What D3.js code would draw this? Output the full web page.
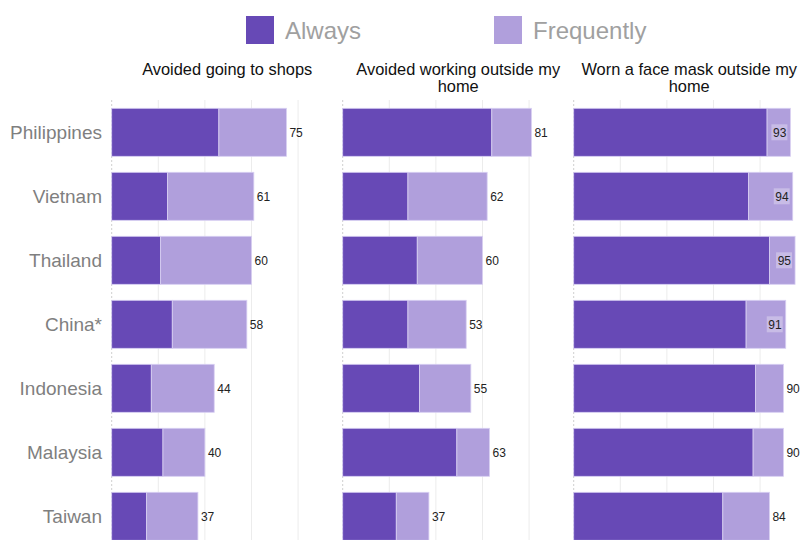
<!DOCTYPE html>
<html lang="en">
<head>
<meta charset="utf-8">
<title>Behaviour by country</title>
<script src="https://d3js.org/d3.v7.min.js"></script>
<style>
  body { margin: 0; background: #fff; }
  svg { display: block; font-family: "Liberation Sans", Arial, sans-serif; }
</style>
</head>
<body>
<script>
// data
var countries = ["Philippines", "Vietnam", "Thailand", "China*", "Indonesia", "Malaysia", "Taiwan"];
var seriesNames = ["Always", "Frequently"];
var panelTitles = [
  ["Avoided going to shops"],
  ["Avoided working outside my", "home"],
  ["Worn a face mask outside my", "home"]
];
var alwaysShops = [46, 24, 21, 26, 17, 22, 15];
var freqShops   = [29, 37, 39, 32, 27, 18, 22];
var alwaysWork  = [64, 28, 32, 28, 33, 49, 23];
var freqWork    = [17, 34, 28, 25, 22, 14, 14];
var alwaysMask  = [83, 75, 84, 74, 78, 77, 64];
var freqMask    = [10, 19, 11, 17, 12, 13, 20];
var gridTicks = [0, 20, 40, 60, 80];

var colors = ["#6749b6", "#b09fdc"];

var panels = [
  { always: alwaysShops, freq: freqShops },
  { always: alwaysWork,  freq: freqWork },
  { always: alwaysMask,  freq: freqMask }
];

var width = 800, height = 540;
var svg = d3.select("body").append("svg").attr("width", width).attr("height", height);

var panelScale = d3.scaleBand().domain(d3.range(3)).range([111.7, 111.7 + 3 * 231]);
var x = d3.scaleLinear().domain([0, 100]).range([0, 233]);
var y = d3.scaleBand().domain(countries).range([100.3, 548.3]).paddingInner(0.25).paddingOuter(0.125);

// legend
var legend = svg.append("g").attr("class", "legend");
var legendX = d3.scalePoint().domain(seriesNames).range([246, 494]);
seriesNames.forEach(function(s, i) {
  var g = legend.append("g").attr("transform", "translate(" + legendX(s) + ",16)");
  g.append("rect").attr("width", 28).attr("height", 28).attr("fill", colors[i]);
  g.append("text").attr("x", 39).attr("y", 23)
    .attr("font-size", 24).attr("fill", "#a0a0a0").text(s);
});

// country labels
svg.append("g").selectAll("text")
  .data(countries).enter().append("text")
  .attr("x", 102)
  .attr("y", function(d) { return y(d) + y.bandwidth() / 2; })
  .attr("dy", "0.35em")
  .attr("text-anchor", "end")
  .attr("font-size", 19)
  .attr("fill", "#7f7f7f")
  .text(function(d) { return d; });

panels.forEach(function(p, pi) {
  var g = svg.append("g").attr("transform", "translate(" + panelScale(pi) + ",0)");

  // grid
  g.selectAll("line.grid")
    .data(gridTicks).enter().append("line")
    .attr("class", "grid")
    .attr("x1", function(d) { return x(d); })
    .attr("x2", function(d) { return x(d); })
    .attr("y1", 100).attr("y2", height)
    .attr("stroke", function(d) { return d === 0 ? "#cfcfcf" : "#ececec"; })
    .attr("stroke-dasharray", function(d) { return d === 0 ? "2,2" : null; });

  // title
  var cx = panelScale.bandwidth() / 2;
  g.append("text")
    .attr("text-anchor", "middle")
    .attr("font-size", 16.4)
    .attr("fill", "#111")
    .selectAll("tspan")
    .data(panelTitles[pi]).enter().append("tspan")
    .attr("x", cx)
    .attr("y", function(d, i) { return 75 + i * 17; })
    .text(function(d) { return d; });

  var rows = countries.map(function(c, i) {
    return { country: c, always: p.always[i], freq: p.freq[i], total: p.always[i] + p.freq[i] };
  });

  var stack = d3.stack().keys(["always", "freq"])(rows);
  stack.forEach(function(layer, li) {
    g.append("g").selectAll("rect")
      .data(layer).enter().append("rect")
      .attr("x", function(d) { return x(d[0]); })
      .attr("y", function(d) { return y(d.data.country); })
      .attr("width", function(d) { return x(d[1]) - x(d[0]); })
      .attr("height", y.bandwidth())
      .attr("fill", colors[li])
      .attr("stroke", "#d8cff2")
      .attr("stroke-width", 0.8);
  });

  // value labels
  rows.forEach(function(r) {
    var inside = r.total > 90;
    var ly = y(r.country) + y.bandwidth() / 2;
    if (inside) {
      g.append("rect")
        .attr("x", x(r.total) - 19).attr("y", ly - 8)
        .attr("width", 16).attr("height", 16)
        .attr("fill", "#ffffff").attr("opacity", 0.3);
      g.append("text")
        .attr("x", x(r.total) - 4).attr("y", ly).attr("dy", "0.35em")
        .attr("text-anchor", "end").attr("font-size", 12).attr("fill", "#222")
        .text(r.total);
    } else {
      g.append("text")
        .attr("x", x(r.total) + 3).attr("y", ly).attr("dy", "0.35em")
        .attr("font-size", 12).attr("fill", "#222")
        .text(r.total);
    }
  });
});
</script>
</body>
</html>
